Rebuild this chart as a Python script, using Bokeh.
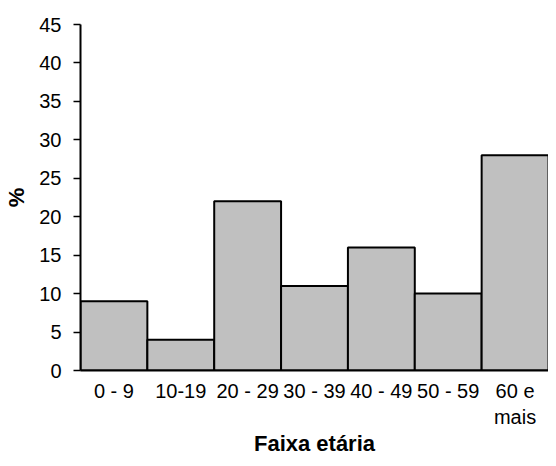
from bokeh.plotting import figure
from bokeh.models import FactorRange, Range1d, FixedTicker, ColumnDataSource
from bokeh.embed import file_html
from bokeh.resources import INLINE

categories = ["0 - 9", "10-19", "20 - 29", "30 - 39", "40 - 49", "50 - 59", "60 e\nmais"]
values = [9, 4, 22, 11, 16, 10, 28]
y_ticks = [0, 5, 10, 15, 20, 25, 30, 35, 40, 45]

src = ColumnDataSource(data=dict(cat=categories, val=values))

p = figure(x_range=FactorRange(*categories, range_padding=0), y_range=Range1d(0, 45),
           width=548, height=458, output_backend="svg", toolbar_location=None,
           min_border_left=80, min_border_right=0, min_border_top=24, min_border_bottom=80)
p.vbar(x="cat", top="val", width=1.0, source=src, fill_color="#c0c0c0",
       line_color="black", line_width=2)

p.xgrid.visible = False
p.ygrid.visible = False
p.outline_line_color = None

font = "Liberation Sans"
p.yaxis.ticker = FixedTicker(ticks=y_ticks)
p.yaxis.minor_tick_line_color = None
p.yaxis.major_tick_in = 0
p.yaxis.major_tick_out = 7
p.yaxis.major_tick_line_width = 1.5
p.yaxis.axis_line_width = 2
p.yaxis.major_label_standoff = 12
p.yaxis.major_label_text_font = font
p.yaxis.major_label_text_font_size = "20px"
p.yaxis.major_label_text_color = "black"
p.yaxis.axis_label = "%"
p.yaxis.axis_label_text_font = font
p.yaxis.axis_label_text_font_size = "22px"
p.yaxis.axis_label_text_font_style = "bold"
p.yaxis.axis_label_text_color = "black"
p.yaxis.axis_label_standoff = 7

p.xaxis.major_tick_line_color = None
p.xaxis.minor_tick_line_color = None
p.xaxis.axis_line_width = 2
p.xaxis.major_label_standoff = 3
p.xaxis.major_label_text_font = font
p.xaxis.major_label_text_font_size = "20px"
p.xaxis.major_label_text_color = "black"
p.xaxis.axis_label = "Faixa etária"
p.xaxis.axis_label_text_font = font
p.xaxis.axis_label_text_font_size = "22px"
p.xaxis.axis_label_text_font_style = "bold"
p.xaxis.axis_label_text_color = "black"
p.xaxis.axis_label_standoff = 0

open("out.html", "w").write(file_html(p, INLINE))
